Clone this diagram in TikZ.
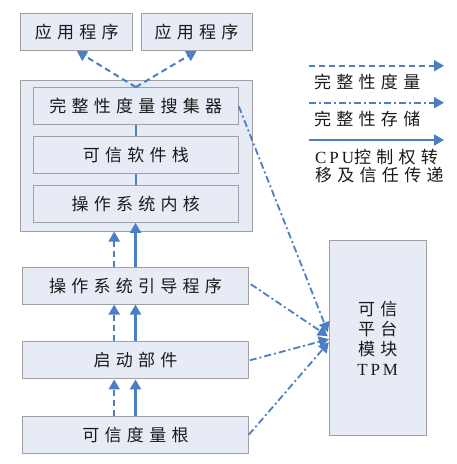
\documentclass[tikz,border=0pt]{standalone}
\usepackage{fontspec}
\setmainfont{Liberation Serif}
\newfontfamily\cjk[LetterSpace=31]{Noto Sans CJK SC}
\newfontfamily\lat[LetterSpace=17]{Liberation Serif}
\usetikzlibrary{arrows.meta,calc}
\definecolor{boxfill}{HTML}{E6EBF5}
\definecolor{boxline}{HTML}{A0A0A0}
\definecolor{arrowblue}{HTML}{4A7EC6}
\definecolor{txt}{HTML}{1A1A1A}
\begin{document}
\begin{tikzpicture}[x=1pt,y=-1pt,
  box/.style={draw=boxline, fill=boxfill, line width=1pt, inner sep=0pt, text=txt,
    font=\fontsize{17}{20}\selectfont\cjk},
  tipa/.style={-{Triangle[width=11pt,length=10pt]}},
  meas/.style={arrowblue, line width=2pt, dash pattern=on 6pt off 4pt, tipa},
  store/.style={arrowblue, line width=1.8pt, dash pattern=on 7pt off 3pt on 2pt off 3pt, tipa},
  ctrl/.style={arrowblue, line width=2.2pt, tipa},
  link/.style={arrowblue, line width=2.2pt},
  legtext/.style={anchor=west, inner sep=0pt, text=txt, align=left,
    font=\fontsize{17}{18}\selectfont\cjk}
]
\useasboundingbox (0,0) rectangle (457,464);
% top application boxes
\node[box, minimum width=112pt, minimum height=37pt] (app1) at (76.8,32) {应用程序};
\node[box, minimum width=111pt, minimum height=37pt] (app2) at (196.5,32) {应用程序};
% container
\node[box, minimum width=231.3pt, minimum height=151pt] (cont) at (136.5,155.5) {};
\node[box, minimum width=205pt, minimum height=37.3pt] (m1) at (135.8,106.3) {完整性度量搜集器};
\node[box, minimum width=205pt, minimum height=37.3pt] (m2) at (135.8,154.7) {可信软件栈};
\node[box, minimum width=205pt, minimum height=37.3pt] (m3) at (135.8,203.7) {操作系统内核};
% lower chain
\node[box, minimum width=225.6pt, minimum height=36.7pt] (loader) at (135.5,285.7) {操作系统引导程序};
\node[box, minimum width=225.6pt, minimum height=37.3pt] (boot) at (135.5,360.3) {启动部件};
\node[box, minimum width=225.6pt, minimum height=37.3pt] (root) at (135.5,434.7) {可信度量根};
% TPM
\node[box, minimum width=96.7pt, minimum height=195pt, align=center] (tpm) at (377.7,338.2)
  {可信\\平台\\模块\\{\lat TPM}};
% links inside container
\draw[link] (m1.south) -- (m2.north);
\draw[link] (m2.south) -- (m3.north);
% measurement to applications
\draw[meas] (m1.north) -- (app1.south);
\draw[meas] (m1.north) -- (app2.south);
% chain arrows
\draw[ctrl] (root.north) -- (boot.south);
\draw[meas] ([xshift=-21.3pt]root.north) -- ([xshift=-21.3pt]boot.south);
\draw[ctrl] (boot.north) -- (loader.south);
\draw[meas] ([xshift=-21.3pt]boot.north) -- ([xshift=-21.3pt]loader.south);
\draw[ctrl] (loader.north) -- (loader.north |- m3.south);
\draw[meas] ([xshift=-21.3pt]loader.north) -- ([xshift=-21.3pt]loader.north |- cont.south);
% storage to TPM
\coordinate (t1) at ($(tpm.west)+(-1,-6)$);
\coordinate (t2) at ($(tpm.west)+(-1,-2)$);
\coordinate (t3) at ($(tpm.west)+(0,1)$);
\coordinate (t4) at ($(tpm.west)+(0,4)$);
\draw[store] (m1.east) -- (t1);
\draw[store] ([xshift=2pt,yshift=1.5pt]loader.east) -- (t2);
\draw[store] ([xshift=1pt]boot.east) -- (t3);
\draw[store] (root.east) -- (t4);
% legend
\coordinate (l1a) at (309,65.7); \coordinate (l1b) at (444,65.7);
\coordinate (l2a) at (309,102.7); \coordinate (l2b) at (444,102.7);
\coordinate (l3a) at (309,140); \coordinate (l3b) at (444,140);
\draw[meas] (l1a) -- (l1b);
\draw[store] (l2a) -- (l2b);
\draw[ctrl] (l3a) -- (l3b);
\node[legtext] (lt1) at (314,81.7) {完整性度量};
\node[legtext] (lt2) at (314,119) {完整性存储};
\node[legtext] (lt3) at (315,166.2) {{\lat CPU}控制权转\\移及信任传递};
\end{tikzpicture}
\end{document}
